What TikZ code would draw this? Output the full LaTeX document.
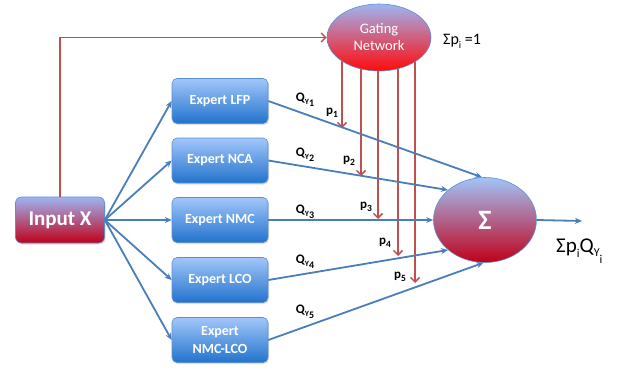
\documentclass[tikz,border=0pt]{standalone}
\usepackage{fontspec}
\setmainfont{Carlito}
\usetikzlibrary{arrows.meta,shapes.geometric,shadows,backgrounds}
\definecolor{lineblue}{HTML}{4A7EBB}
\definecolor{linered}{HTML}{C0504D}
\definecolor{boxtop}{HTML}{A2C6FA}
\definecolor{boxbot}{HTML}{2273CC}
\definecolor{boxborder}{HTML}{5B8FD0}
\definecolor{purtop}{HTML}{9FB4F2}
\definecolor{redbot}{HTML}{C0001A}
\definecolor{brightred}{HTML}{FF0A0A}
\tikzset{
  expertbox/.style={draw=boxborder, line width=0.6pt, rounded corners=5pt,
    top color=boxtop, bottom color=boxbot, minimum width=96, minimum height=45,
    text=white, font=\fontsize{14}{15}\selectfont\bfseries, align=center,
    drop shadow={opacity=0.25, shadow xshift=1pt, shadow yshift=-1.5pt}},
  inputbox/.style={draw=boxborder, line width=0.6pt, rounded corners=6pt,
    top color=purtop, bottom color=redbot, minimum width=89, minimum height=46,
    text=white, font=\fontsize{21}{22}\selectfont\bfseries,
    drop shadow={opacity=0.25, shadow xshift=1pt, shadow yshift=-1.5pt}},
  ellipsenode/.style={ellipse, draw=boxborder, line width=0.6pt, text=white, align=center,
    inner sep=0pt},
  blueline/.style={draw=lineblue, line width=1.8pt, -{Stealth[length=7pt,width=6pt]}},
  redline/.style={draw=linered, line width=1.5pt, -{Straight Barb[length=4.5pt,width=9pt]}},
  lbl/.style={font=\fontsize{13}{14}\selectfont\bfseries, inner sep=0pt},
}
\newcommand{\QY}[1]{Q\raisebox{-0.35ex}{\fontsize{8}{9}\selectfont Y}\raisebox{-0.75ex}{\fontsize{10}{11}\selectfont #1}}
\newcommand{\PP}[1]{p\raisebox{-0.5ex}{\fontsize{9.5}{10}\selectfont #1}}
\begin{document}
\begin{tikzpicture}[x=1pt,y=-1pt]
\useasboundingbox (0,0) rectangle (621,369);
\node[inputbox] (inp) at (60,220) {Input X};
\node[expertbox] (e1) at (220,101) {Expert LFP};
\node[expertbox] (e2) at (220,160.5) {Expert NCA};
\node[expertbox] (e3) at (220,220) {Expert NMC};
\node[expertbox] (e4) at (220,280) {Expert LCO};
\node[expertbox, font=\fontsize{14}{18}\selectfont\bfseries] (e5) at (220,340) {Expert\\NMC-LCO};
\node[ellipsenode, minimum width=104, minimum height=67, top color=purtop, bottom color=brightred,
  font=\fontsize{14.5}{17}\selectfont] (gate) at (379,37.5) {Gating\\Network};
\node[ellipsenode, minimum width=103, minimum height=85, top color=boxtop!90!purtop, bottom color=redbot,
  font=\fontsize{28}{30}\selectfont\bfseries] (sum) at (485,220) {Σ};
% red gating arrow ends
\coordinate (r1) at (342,128);
\coordinate (r2) at (361,176);
\coordinate (r3) at (378,219);
\coordinate (r4) at (398,256);
\coordinate (r5) at (415,283);
\coordinate (out) at (582,221);
% input to experts
\foreach \i in {1,...,5} \draw[blueline] (inp.east) -- (e\i.west);
% experts to sum
\draw[blueline] (e1.east) -- (sum.94);
\draw[blueline] (e2.east) -- (sum.141);
\draw[blueline] (e3.east) -- (sum.west);
\draw[blueline] (e4.east) -- (sum.-141);
\draw[blueline] (e5.east) -- (sum.-92);
\draw[blueline] (sum.east) -- (out);
% red lines
\draw[redline] (inp.north) |- (gate.west);
\begin{scope}[on background layer]
\foreach \i in {1,...,5} \draw[redline] (r\i |- gate.center) -- (r\i);
\end{scope}
% labels
\node[lbl] (q1) at (305,100) {\QY{1}};
\node[lbl] (q2) at (305,155) {\QY{2}};
\node[lbl] (q3) at (305,212) {\QY{3}};
\node[lbl] (q4) at (305,262) {\QY{4}};
\node[lbl] (q5) at (305,312) {\QY{5}};
\node[lbl] (p1) at (332,113) {\PP{1}};
\node[lbl] (p2) at (349,161) {\PP{2}};
\node[lbl] (p3) at (366,207) {\PP{3}};
\node[lbl] (p4) at (385,243) {\PP{4}};
\node[lbl] (p5) at (400,277) {\PP{5}};
\node[font=\fontsize{16}{17}\selectfont, anchor=west, inner sep=0pt] (norm) at (443,41) {Σp\raisebox{-0.5ex}{\fontsize{10}{11}\selectfont i} =1};
\node[font=\fontsize{21}{22}\selectfont, anchor=west, inner sep=0pt] (res) at (556,251) {Σp\raisebox{-0.5ex}{\fontsize{12}{13}\selectfont i}Q\raisebox{-0.4ex}{\fontsize{12}{13}\selectfont Y}\raisebox{-1.1ex}{\fontsize{12}{13}\selectfont i}};
\end{tikzpicture}
\end{document}
